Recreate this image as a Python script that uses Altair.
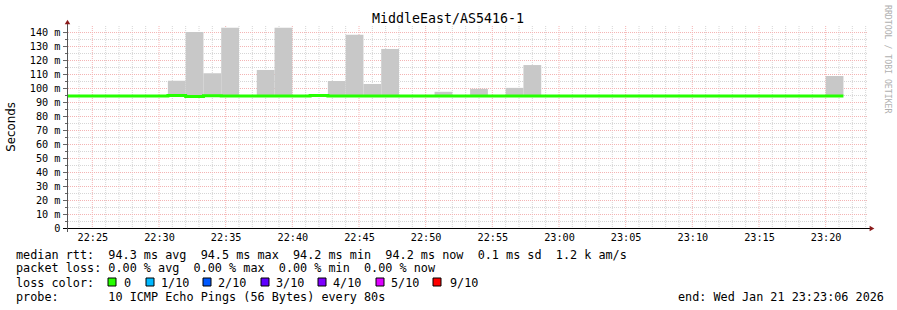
import altair as alt
import pandas as pd

# ---------------- data ----------------
title = "MiddleEast/AS5416-1"
step_seconds = 80
first_step_min = 22 + 40 / 60          # 22:22:40, minutes after 22:00
window_min = [23.1, 83.1]              # 22:23:06 .. 23:23:06

median_ms = [
    94.3, 94.3, 94.3, 94.3, 94.3, 94.3, 94.7, 94.0, 94.5, 94.3, 94.3,
    94.3, 94.3, 94.3, 94.6, 94.3, 94.3, 94.3, 94.3, 94.3, 94.3, 94.3,
    94.3, 94.3, 94.3, 94.3, 94.3, 94.3, 94.3, 94.3, 94.3, 94.3, 94.3,
    94.3, 94.3, 94.3, 94.3, 94.3, 94.3, 94.3, 94.3, 94.3, 94.3, 94.3,
]
smoke_max_ms = [
    None, None, None, None, None, None, 105.2, 140.0, 110.6, 143.0, None,
    112.9, 143.0, None, None, 105.0, 138.0, 102.9, 127.9, None, None, 97.3,
    None, 99.4, None, 100.1, 116.4, None, None, None, None, None, None,
    None, None, None, None, None, None, None, None, None, None, 108.6,
]
x_tick_min = [25, 30, 35, 40, 45, 50, 55, 60, 65, 70, 75, 80]
y_tick_ms = [0, 10, 20, 30, 40, 50, 60, 70, 80, 90, 100, 110, 120, 130, 140]
y_max = 144.3

legend_lines = [
    "median rtt:  94.3 ms avg  94.5 ms max  94.2 ms min  94.2 ms now  0.1 ms sd  1.2 k am/s",
    "packet loss: 0.00 % avg  0.00 % max  0.00 % min  0.00 % now",
    "loss color:",
    "probe:       10 ICMP Echo Pings (56 Bytes) every 80s",
]
end_text = "end: Wed Jan 21 23:23:06 2026"
loss_labels = ["0", "1/10", "2/10", "3/10", "4/10", "5/10", "9/10"]
loss_colors = ["#26ff00", "#00b8ff", "#0059ff", "#5e00ff", "#7e00ff", "#dd00ff", "#ff0000"]

# ---------------- tables ----------------
step_min = step_seconds / 60
starts = [first_step_min + i * step_min for i in range(len(median_ms))]
smoke = pd.DataFrame({
    "t0": starts,
    "t1": [s + step_min for s in starts],
    "lo": median_ms,
    "hi": smoke_max_ms,
}).dropna()
med = pd.DataFrame({
    "t": starts + [starts[-1] + step_min],
    "v": median_ms + [median_ms[-1]],
})

# ---------------- layout / style ----------------
W, H = 800, 202
MONO = "DejaVu Sans Mono"
MINOR = "#d6d6d6"
MAJOR = "#f4b4b4"

xs = alt.Scale(domain=window_min, nice=False, zero=False, clamp=True)
ys = alt.Scale(domain=[0, y_max], nice=False, zero=False)

x_axis = alt.Axis(values=x_tick_min, title=None, grid=False, ticks=False, domain=False,
                  labelExpr="format(22 + floor(datum.value / 60), '02d') + ':' + format(datum.value % 60, '02d')",
                  labelFont=MONO, labelFontSize=10.2, labelColor="#000", labelPadding=4,
                  labelFlush=False, labelOverlap=False)
y_axis = alt.Axis(values=y_tick_ms, title=None, grid=False, ticks=False, domain=False,
                  labelExpr="datum.value == 0 ? '0' : datum.value + ' m'",
                  labelFont=MONO, labelFontSize=10.2, labelColor="#000", labelPadding=7,
                  labelFlush=False, labelOverlap=False)


def X(field):
    return alt.X(field, scale=xs, axis=x_axis)


def Y(field):
    return alt.Y(field, scale=ys, axis=y_axis)


minor_x = pd.DataFrame({"m": [m for m in range(24, 84) if m % 5 != 0]})
major_x = pd.DataFrame({"m": x_tick_min})
minor_y = pd.DataFrame({"v": [v + 5 for v in y_tick_ms if v + 5 < y_max]})
major_y = pd.DataFrame({"v": y_tick_ms[1:]})
one = pd.DataFrame({"a": [0]})

g_minor_x = alt.Chart(minor_x).mark_rule(color=MINOR, strokeDash=[1, 1], strokeWidth=1).encode(
    x=X("m:Q"))
g_minor_y = alt.Chart(minor_y).mark_rule(color=MINOR, strokeDash=[1, 1], strokeWidth=1,
                                         yOffset=0.5).encode(y=Y("v:Q"))
g_major_x = alt.Chart(major_x).mark_rule(color=MAJOR, strokeDash=[1, 1], strokeWidth=1).encode(
    x=X("m:Q"))
g_major_y = alt.Chart(major_y).mark_rule(color=MAJOR, strokeDash=[1, 1], strokeWidth=1,
                                         yOffset=0.5).encode(y=Y("v:Q"))

smoke_layer = alt.Chart(smoke).mark_rect(color="#c8c8c8").encode(
    x=X("t0:Q"), x2="t1:Q", y=Y("lo:Q"), y2="hi:Q")

median_layer = alt.Chart(med).mark_line(color="#26ff00", strokeWidth=3, interpolate="step-after",
                                         strokeCap="butt").encode(x=X("t:Q"), y=Y("v:Q"))

y_ticks_major = alt.Chart(pd.DataFrame({"v": y_tick_ms})).mark_rule(color="#666", strokeWidth=1,
                                                                    yOffset=0.5).encode(
    y=Y("v:Q"), x=alt.value(-4), x2=alt.value(0))
y_ticks_minor = alt.Chart(minor_y).mark_rule(color="#666", strokeWidth=1, yOffset=0.5).encode(
    y=Y("v:Q"), x=alt.value(-2), x2=alt.value(0))

x_line = alt.Chart(one).mark_rule(color="#000", strokeWidth=1).encode(
    x=alt.value(-4), x2=alt.value(803), y=alt.value(H + 0.5))
y_line = alt.Chart(one).mark_rule(color="#555", strokeWidth=1).encode(
    x=alt.value(0.5), y=alt.value(-3), y2=alt.value(H + 4))
arrow_up = alt.Chart(one).mark_point(shape="triangle-up", filled=True, color="#8b1a1a", size=30,
                                     opacity=1).encode(x=alt.value(0.5), y=alt.value(-4))
arrow_right = alt.Chart(one).mark_point(shape="triangle-right", filled=True, color="#8b1a1a", size=30,
                                        opacity=1).encode(x=alt.value(805), y=alt.value(H + 0.5))

title_layer = alt.Chart(one).mark_text(text=title, font=MONO, fontSize=13.3, color="#000",
                                        align="center", baseline="middle").encode(
    x=alt.value(381), y=alt.value(-7))
ylabel_layer = alt.Chart(one).mark_text(text="Seconds", font="DejaVu Sans", fontSize=11.8, color="#000",
                                         align="center", baseline="middle", angle=270).encode(
    x=alt.value(-56), y=alt.value(101))
rrd_layer = alt.Chart(one).mark_text(text="RRDTOOL / TOBI OETIKER", font=MONO, fontSize=8.2,
                                      color="#b0b0b0", align="left", baseline="middle", angle=90).encode(
    x=alt.value(820), y=alt.value(-21))

NB = "\u00a0"
line_y = [228.7, 242.3, 256.7, 270.7]
legend_df = pd.DataFrame({
    "px": [-51] * len(legend_lines) + [611],
    "py": line_y + [line_y[3]],
    "txt": [s.replace(" ", NB) for s in legend_lines] + [end_text.replace(" ", NB)],
})
legend_text = alt.Chart(legend_df).mark_text(font=MONO, fontSize=11.8, color="#000",
                                              align="left", baseline="middle").encode(
    x=alt.X("px:Q", scale=None, axis=None), y=alt.Y("py:Q", scale=None, axis=None), text="txt:N")

sq_x = [41, 79, 136, 194, 251, 309, 366]
lab_x = [57, 94, 151, 209, 266, 324, 383]
boxes = pd.DataFrame({"x0": sq_x, "x1": [v + 8 for v in sq_x], "c": loss_colors, "lab": loss_labels,
                      "lx": lab_x})
box_layer = alt.Chart(boxes).mark_rect(stroke="#000", strokeWidth=1).encode(
    x=alt.X("x0:Q", scale=None, axis=None), x2="x1:Q",
    y=alt.value(252), y2=alt.value(260),
    fill=alt.Fill("c:N", scale=None, legend=None))
box_text = alt.Chart(boxes).mark_text(font=MONO, fontSize=11.8, color="#000", align="left",
                                       baseline="middle").encode(
    x=alt.X("lx:Q", scale=None, axis=None), y=alt.value(line_y[2]), text="lab:N")

chart = alt.layer(
    g_minor_x, g_minor_y, g_major_x, g_major_y,
    smoke_layer, median_layer,
    y_ticks_minor, y_ticks_major, x_line, y_line, arrow_up, arrow_right,
    title_layer, ylabel_layer, rrd_layer, legend_text, box_layer, box_text,
).properties(
    width=W, height=H,
    autosize=alt.AutoSizeParams(type="none"),
    padding={"left": 67, "top": 26, "right": 30, "bottom": 82},
    background="#ffffff",
).configure_view(stroke=None)

chart.save("out.html", embed_options={"renderer": "svg", "actions": False})
